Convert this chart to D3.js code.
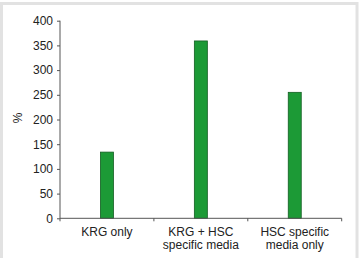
<!DOCTYPE html>
<html>
<head>
<meta charset="utf-8">
<script src="https://cdn.jsdelivr.net/npm/d3@7"></script>
<style>
body { margin: 0; background: #fff; }
text { font-family: "Liberation Sans", Arial, sans-serif; }
</style>
</head>
<body>
<svg width="361" height="258"></svg>
<script>
var categories = [["KRG only"], ["KRG + HSC", "specific media"], ["HSC specific", "media only"]];
var values = [134, 359, 255];
var yTicks = [0, 50, 100, 150, 200, 250, 300, 350, 400];

var svg = d3.select("svg");

// frame
svg.append("rect")
  .attr("x", 1.5).attr("y", 3.5)
  .attr("width", 355.5).attr("height", 262)
  .attr("fill", "none")
  .attr("stroke", "#e2e2e2")
  .attr("stroke-width", 3);

var plotL = 60, plotR = 341.7, plotT = 20.7, plotB = 218.3;

var x = d3.scaleBand().domain(d3.range(values.length)).range([plotL, plotR]);
var y = d3.scaleLinear().domain([0, 400]).range([plotB, plotT]);

// y axis
var yAxis = svg.append("g")
  .attr("transform", "translate(" + plotL + ",0)")
  .call(d3.axisLeft(y).tickValues(yTicks).tickSize(3).tickPadding(4));
yAxis.select(".domain").attr("stroke", "#555").attr("d", "M0," + plotT + "V" + plotB);
yAxis.selectAll(".tick line").attr("stroke", "#555");
yAxis.selectAll("text").attr("fill", "#222").style("font-size", "12px");

// bars
svg.append("g").selectAll("rect")
  .data(values)
  .enter().append("rect")
  .attr("x", function(d, i) { return x(i) + x.bandwidth() / 2 - 6.5; })
  .attr("width", 13)
  .attr("y", function(d) { return y(d); })
  .attr("height", function(d) { return plotB - y(d); })
  .attr("fill", "#1c9a36")
  .attr("stroke", "#135e22")
  .attr("stroke-width", 0.8);

// x axis
var xAxis = svg.append("g").attr("transform", "translate(0," + plotB + ")");
xAxis.append("line")
  .attr("x1", plotL).attr("x2", plotR)
  .attr("stroke", "#555");
var edges = d3.range(values.length + 1).map(function(i) { return plotL + i * x.step(); });
xAxis.selectAll("line.tk")
  .data(edges)
  .enter().append("line")
  .attr("class", "tk")
  .attr("x1", function(d) { return d; }).attr("x2", function(d) { return d; })
  .attr("y1", 0).attr("y2", 3)
  .attr("stroke", "#555");

var lab = svg.append("g").selectAll("text")
  .data(categories)
  .enter().append("text")
  .attr("text-anchor", "middle")
  .attr("x", function(d, i) { return x(i) + x.bandwidth() / 2; })
  .attr("y", 236)
  .attr("fill", "#222")
  .style("font-size", "12px");
lab.selectAll("tspan")
  .data(function(d) { return d; })
  .enter().append("tspan")
  .attr("x", function() { return d3.select(this.parentNode).attr("x"); })
  .attr("dy", function(d, i) { return i ? 13 : 0; })
  .text(function(d) { return d; });

// y title
svg.append("text")
  .attr("transform", "translate(22,118) rotate(-90)")
  .attr("text-anchor", "middle")
  .attr("fill", "#222")
  .style("font-size", "12px")
  .text("%");
</script>
</body>
</html>
